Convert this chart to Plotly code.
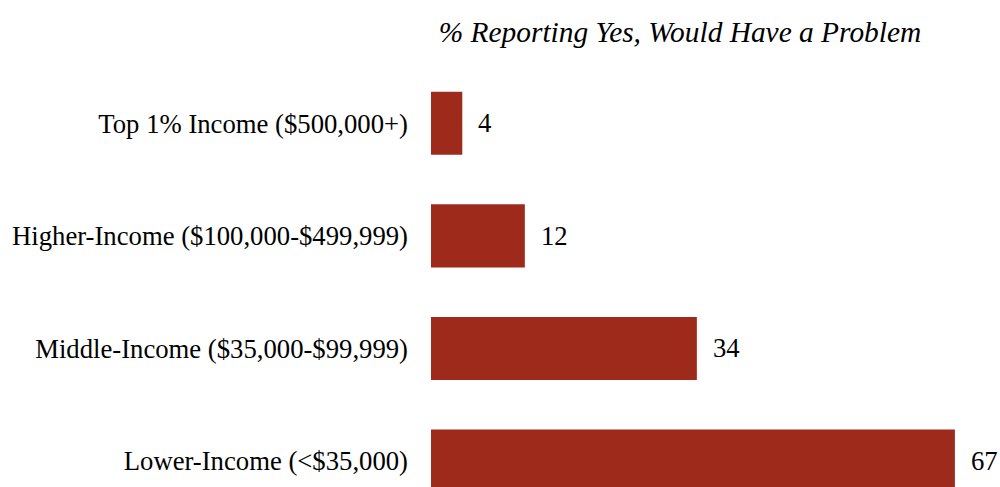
import plotly.graph_objects as go

# Survey groups, listed bottom to top as drawn
categories = [
    "Lower-Income (<$35,000)",
    "Middle-Income ($35,000-$99,999)",
    "Higher-Income ($100,000-$499,999)",
    "Top 1% Income ($500,000+)",
]
pct_yes = [67, 34, 12, 4]

title_text = "% Reporting Yes, Would Have a Problem"
bar_color = "#9E2A1B"
font_family = "Liberation Serif, Times New Roman, serif"
label_size = 26.7

fig = go.Figure(
    go.Bar(
        x=pct_yes,
        y=categories,
        orientation="h",
        marker=dict(color=bar_color, line=dict(width=0)),
        width=0.56,
        hoverinfo="x+y",
    )
)

# value labels to the right of each bar
for cat, val in zip(categories, pct_yes):
    fig.add_annotation(
        x=val, y=cat, xref="x", yref="y",
        text=str(val), showarrow=False,
        xanchor="left", yanchor="middle", xshift=14,
        font=dict(family=font_family, size=label_size, color="#000000"),
    )

fig.update_layout(
    width=1000,
    height=487,
    margin=dict(l=431, r=6, t=67, b=0, pad=0),
    paper_bgcolor="white",
    plot_bgcolor="white",
    showlegend=False,
    font=dict(family=font_family, size=label_size, color="#000000"),
    title=dict(
        text=title_text,
        x=0.68, xref="container", xanchor="center",
        y=1 - 32 / 487, yref="container", yanchor="middle",
        font=dict(family=font_family, size=29.4, color="#000000", style="italic"),
    ),
    xaxis=dict(
        range=[0, 72], visible=False, showgrid=False, zeroline=False,
    ),
    yaxis=dict(
        type="category",
        range=[-0.231, 3.5],
        showgrid=False, zeroline=False, showline=False,
        ticks="", ticklabelstandoff=22,
        tickfont=dict(family=font_family, size=label_size, color="#000000"),
    ),
)

fig.write_html("out.html")
